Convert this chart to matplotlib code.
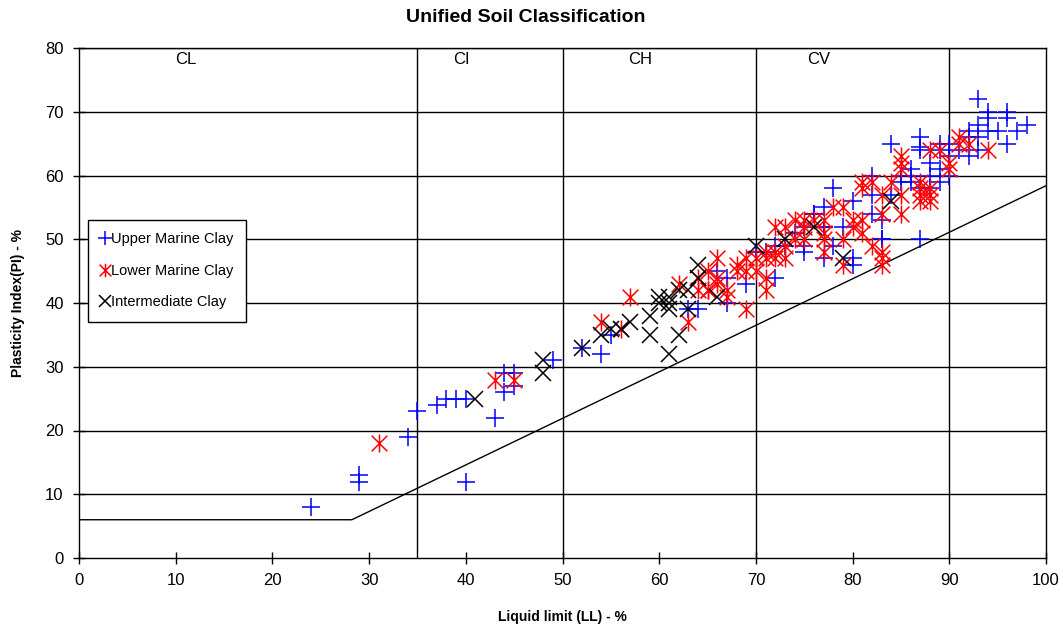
import matplotlib
matplotlib.use("Agg")
import matplotlib.pyplot as plt
from matplotlib.path import Path
import numpy as np

plt.rcParams['font.family'] = ['Liberation Sans', 'DejaVu Sans']

# ---------------- data ----------------
umc_ll = [24, 29, 29, 34, 35, 37, 38, 39, 40, 40, 43, 44, 44, 45, 45, 49, 52, 54, 55,
          63, 64, 66, 67, 67, 69, 72, 71, 72, 75, 74, 76, 77, 77, 77, 78, 82, 82, 82,
          80, 76, 75, 79, 75, 78, 80, 83, 84, 85, 85, 86, 87, 84, 87, 93, 94, 94, 96,
          96, 93, 94, 95, 97, 98, 92, 92, 93, 96, 87, 87, 89, 89, 90, 91, 92, 93, 86,
          88, 88, 89, 89, 90, 90, 86, 87, 88, 83, 83, 77, 80, 73, 70]
umc_pi = [8, 12, 13, 19, 23, 24, 25, 25, 25, 12, 22, 26, 29, 29, 27, 31, 33, 32, 35,
          39, 39, 45, 44, 40, 43, 44, 48, 49, 49, 51, 54, 55, 52, 47, 58, 60, 57, 54,
          56, 54, 52, 52, 48, 49, 46, 50, 57, 60, 59, 60, 50, 65, 64, 72, 70, 69, 70,
          69, 68, 67, 67, 67, 68, 67, 66, 66, 65, 66, 64.5, 64, 65, 65, 64, 63, 64, 61,
          62, 60, 61, 59, 63, 60, 59, 58, 58, 53, 50, 52, 47, 49, 48]

lmc_ll = [31, 43, 45, 54, 56, 57, 63, 65, 66, 62, 64, 65, 66, 67, 67, 68, 68, 69, 69,
          69, 70, 70, 71, 71, 71, 71, 72, 72, 73, 73, 73, 74, 75, 75, 76, 77, 77, 77,
          77, 81, 82, 81, 83, 83, 85, 85, 85, 85, 85, 84, 78, 79, 80, 81, 81, 79, 79,
          82, 83, 83, 83, 87, 87, 87, 88, 88, 91, 91, 92, 94, 88, 89, 90, 90, 87, 88,
          72, 74, 75, 80, 65, 64, 66]
lmc_pi = [18, 28, 28, 37, 36, 41, 37, 45, 47, 43, 42, 42, 43, 42, 41, 45, 46, 47, 39,
          45, 45, 47, 44, 42, 47, 48, 47, 52, 52, 49, 47, 53, 50, 53, 53, 53, 50, 48,
          51, 59, 59, 58, 57, 54, 54, 57, 63, 62, 61, 59, 55, 55, 53, 53, 51, 50, 46,
          49, 48, 47, 46, 58, 57, 56, 56, 58, 66, 65, 65, 64, 64, 64, 62, 61, 59, 57,
          48, 50, 52, 52, 42, 44, 44]

ic_ll = [41, 48, 48, 52, 54, 56, 57, 59, 59, 62, 61, 60, 61, 60, 61, 61, 62, 63, 64,
         64, 66, 70, 73, 76, 79, 84, 63, 55]
ic_pi = [25, 31, 29, 33, 35, 36, 37, 38, 35, 35, 32, 40, 41, 41, 40, 39, 42, 42, 44,
         46, 41, 49, 50, 52, 47, 56, 39, 36]

zone_bounds = [35, 50, 70, 90]
zone_names = ['CL', 'CI', 'CH', 'CV']
zone_label_x = [11, 39.5, 58, 76.5]

# A-line: PI = 0.73 (LL - 20), with a floor at PI = 6
aline_ll = np.linspace(0, 100, 1001)
aline_pi = np.maximum(0.73 * (aline_ll - 20), 6)

# ---------------- figure ----------------
W, H = 1063, 627
fig = plt.figure(figsize=(W / 100, H / 100), dpi=100)
ax = fig.add_axes([79 / W, 1 - 558 / H, (1046 - 79) / W, (558 - 48) / H])

ax.set_xlim(0, 100)
ax.set_ylim(0, 80)
ax.set_xticks(range(0, 101, 10))
ax.set_yticks(range(0, 81, 10))
ax.tick_params(direction='inout', length=8, width=1, labelsize=12, colors='black')
ax.tick_params(axis='x', pad=7)
ax.tick_params(axis='y', pad=7)

for y in range(10, 81, 10):
    ax.axhline(y, color='black', lw=1, zorder=1)
for x in zone_bounds:
    ax.axvline(x, color='black', lw=1, zorder=1)
for s in ax.spines.values():
    s.set_linewidth(1)

ax.plot(aline_ll, aline_pi, color='black', lw=1, zorder=2)

for name, xl in zip(zone_names, zone_label_x):
    ax.text(xl, 78.2, name, fontsize=12, ha='center', va='center')

# asterisk marker (x + vertical bar)
ast = Path([(-1, -1), (1, 1), (-1, 1), (1, -1), (0, -1.15), (0, 1.15)],
           [Path.MOVETO, Path.LINETO, Path.MOVETO, Path.LINETO, Path.MOVETO, Path.LINETO])

ax.plot(umc_ll, umc_pi, ls='none', marker='+', ms=13, mew=1.1, color='#0000ff',
        label='Upper Marine Clay', zorder=3)
ax.plot(lmc_ll, lmc_pi, ls='none', marker=ast, ms=13, mew=1.1, color='#ff0000',
        mfc='none', label='Lower Marine Clay', zorder=3)
ax.plot(ic_ll, ic_pi, ls='none', marker='x', ms=11, mew=1.1, color='black',
        label='Intermediate Clay', zorder=4)

leg = ax.legend(loc='upper left', bbox_to_anchor=(9 / 967, (558 - 220) / 510),
                borderaxespad=0, fontsize=10.5, frameon=True, fancybox=False,
                edgecolor='black', handlelength=0.6, handletextpad=0.15,
                borderpad=0.85, labelspacing=1.2, markerscale=0.75, framealpha=1)
leg.get_frame().set_linewidth(1)

fig.text(0.495, 1 - 18 / H, 'Unified Soil Classification', ha='center', va='center',
         fontsize=14, fontweight='bold')
fig.text(562 / W, 1 - 617 / H, 'Liquid limit (LL) - %', ha='center', va='center',
         fontsize=10, fontweight='bold')
fig.text(18 / W, 1 - 303 / H, 'Plasticity Index(PI) - %', ha='center', va='center',
         fontsize=10, fontweight='bold', rotation=90)

fig.savefig('out.png', dpi=100)
